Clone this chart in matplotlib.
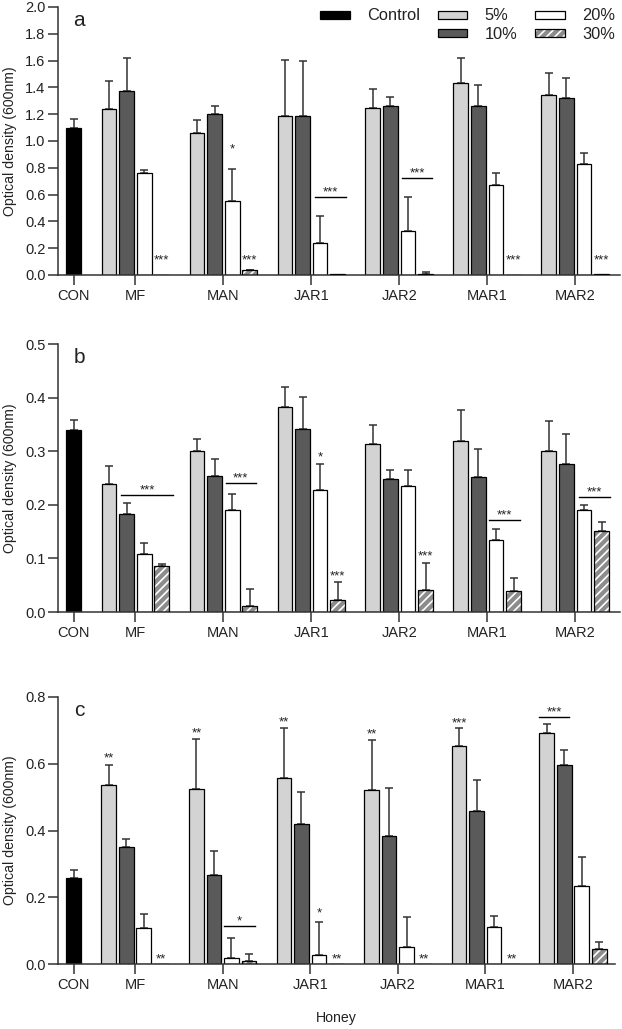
import numpy as np
import matplotlib as mpl
from matplotlib import pyplot as plt
from matplotlib.patches import Patch

plt.rcParams['font.family'] = ['Liberation Sans', 'DejaVu Sans']
plt.rcParams['hatch.linewidth'] = 1.2

honeys = ['CON', 'MF', 'MAN', 'JAR1', 'JAR2', 'MAR1', 'MAR2']
levels = ['5%', '10%', '20%', '30%']

# panel a
a_con, a_con_err = 1.10, 0.065
a_5 = [1.24, 1.06, 1.19, 1.25, 1.43, 1.34]
a_5_err = [0.21, 0.10, 0.415, 0.14, 0.19, 0.17]
a_10 = [1.37, 1.20, 1.19, 1.26, 1.26, 1.32]
a_10_err = [0.25, 0.06, 0.405, 0.07, 0.16, 0.15]
a_20 = [0.76, 0.55, 0.24, 0.33, 0.67, 0.83]
a_20_err = [0.027, 0.24, 0.20, 0.25, 0.094, 0.077]
a_30 = [0.0, 0.035, 0.005, 0.005, 0.0, 0.005]
a_30_err = [0.0, 0.005, 0.0, 0.017, 0.0, 0.0]

# panel b
b_con, b_con_err = 0.34, 0.018
b_5 = [0.238, 0.300, 0.382, 0.314, 0.319, 0.301]
b_5_err = [0.034, 0.022, 0.037, 0.035, 0.057, 0.055]
b_10 = [0.183, 0.254, 0.342, 0.248, 0.252, 0.277]
b_10_err = [0.021, 0.032, 0.060, 0.016, 0.052, 0.055]
b_20 = [0.109, 0.191, 0.228, 0.236, 0.134, 0.191]
b_20_err = [0.020, 0.030, 0.048, 0.029, 0.020, 0.008]
b_30 = [0.085, 0.012, 0.022, 0.041, 0.039, 0.152]
b_30_err = [0.005, 0.030, 0.034, 0.051, 0.025, 0.015]

# panel c
c_con, c_con_err = 0.258, 0.024
c_5 = [0.537, 0.525, 0.556, 0.520, 0.653, 0.693]
c_5_err = [0.060, 0.150, 0.151, 0.152, 0.053, 0.026]
c_10 = [0.350, 0.266, 0.420, 0.384, 0.459, 0.597]
c_10_err = [0.026, 0.074, 0.094, 0.144, 0.092, 0.044]
c_20 = [0.107, 0.018, 0.027, 0.052, 0.111, 0.234]
c_20_err = [0.043, 0.061, 0.100, 0.088, 0.034, 0.086]
c_30 = [0.0, 0.010, 0.0, 0.0, 0.0, 0.045]
c_30_err = [0.0, 0.020, 0.0, 0.0, 0.0, 0.020]

# stars: (honey index 1..6, level index, y of star, text)
a_stars = [(1, 3, 0.14, '***'), (2, 2, 0.97, '*'), (2, 3, 0.14, '***'),
           (5, 3, 0.14, '***'), (6, 3, 0.14, '***')]
b_stars = [(3, 2, 0.297, '*'), (3, 3, 0.075, '***'), (4, 3, 0.112, '***')]
c_stars = [(1, 0, 0.628, '**'), (1, 3, 0.027, '**'), (2, 0, 0.704, '**'),
           (3, 0, 0.736, '**'), (3, 2, 0.164, '*'), (3, 3, 0.028, '**'),
           (4, 0, 0.701, '**'), (4, 3, 0.028, '**'), (5, 0, 0.733, '***'),
           (5, 3, 0.028, '**')]
# bracket lines: (honey index, from, to (bar units from group centre), y, text)
a_lines = [(3, 0.21, 1.95, 0.584, '***'), (4, 0.14, 1.88, 0.724, '***')]
b_lines = [(1, -0.79, 2.15, 0.219, '***'), (2, 0.13, 1.84, 0.240, '***'),
           (5, 0.12, 1.89, 0.1716, '***'), (6, 0.23, 1.99, 0.215, '***')]
c_lines = [(2, 0.07, 1.84, 0.115, '*'), (6, -1.95, -0.2, 0.741, '***')]

group_x = np.array([0, 3.5, 8.5, 13.5, 18.5, 23.5, 28.5])
offsets = np.array([-1.5, -0.5, 0.5, 1.5])
width = 0.84
colors = ['#d3d3d3', '#5a5a5a', '#ffffff', '#8c8c8c']
dark = '#222222'
edge_lw = 0.9


def draw_panel(ax, con, con_err, means, errs, ymax, step, letter, stars, lines, xright):
    ax.bar(group_x[0], con, width, color='black', edgecolor='black', lw=edge_lw, zorder=2)
    ax.errorbar(group_x[0], con, yerr=[[0], [con_err]], fmt='none', ecolor='#333333',
                elinewidth=1.1, capsize=3, capthick=1.1, zorder=1)
    for li in range(4):
        xs = group_x[1:] + offsets[li]
        vals = np.array(means[li])
        if li == 3:
            ax.bar(xs, vals, width, color=colors[li], edgecolor='white', lw=0,
                   hatch='////', zorder=2)
            ax.bar(xs, vals, width, fill=False, edgecolor='black', lw=edge_lw, zorder=3)
        else:
            ax.bar(xs, vals, width, color=colors[li], edgecolor='black', lw=edge_lw, zorder=2)
        e = np.array(errs[li])
        m = e > 0
        ax.errorbar(xs[m], vals[m], yerr=[np.zeros(m.sum()), e[m]], fmt='none',
                    ecolor='#333333', elinewidth=1.1, capsize=3, capthick=1.1, zorder=1)
    for g, li, y, t in stars:
        ax.annotate(t, (group_x[g] + offsets[li], y), xytext=(0, -5.4),
                    textcoords='offset points', ha='center', va='baseline',
                    fontsize=9.5, color=dark)
    for g, x0, x1, y, t in lines:
        ax.plot([group_x[g] + x0, group_x[g] + x1], [y, y], color='black', lw=1.0)
        ax.annotate(t, ((2 * group_x[g] + x0 + x1) / 2, y), xytext=(0, 1.2),
                    textcoords='offset points', ha='center', va='baseline',
                    fontsize=9.5, color=dark)
    ax.set_xlim(-0.9, xright)
    ax.set_ylim(0, ymax)
    ax.set_yticks(np.arange(0, ymax + step / 2, step))
    ax.yaxis.set_major_formatter(mpl.ticker.FormatStrFormatter('%.1f'))
    ax.set_xticks(group_x)
    ax.set_xticklabels(honeys)
    for s in ['top', 'right']:
        ax.spines[s].set_visible(False)
    for s in ['left', 'bottom']:
        ax.spines[s].set_linewidth(1.1)
        ax.spines[s].set_color('#333333')
    ax.tick_params(direction='out', length=7, width=1.1, color='#333333',
                   labelsize=10.5, labelcolor=dark)
    ax.tick_params(axis='y', pad=2)
    ax.tick_params(axis='x', pad=3)
    ax.set_ylabel('Optical density (600nm)', fontsize=10.2, color=dark)
    ax.yaxis.set_label_coords(-0.073, 0.5)
    ax.text(0.038, 0.95, letter, transform=ax.transAxes, ha='center', va='center',
            fontsize=15, color=dark)


fig = plt.figure(figsize=(6.22, 10.29), dpi=100)
ax_a = fig.add_axes([58 / 622, 754 / 1029, 562 / 622, 268 / 1029])
ax_b = fig.add_axes([58 / 622, 417 / 1029, 562 / 622, 268 / 1029])
ax_c = fig.add_axes([58 / 622, 65 / 1029, 557 / 622, 267 / 1029])

draw_panel(ax_a, a_con, a_con_err, [a_5, a_10, a_20, a_30], [a_5_err, a_10_err, a_20_err, a_30_err],
           2.0, 0.2, 'a', a_stars, a_lines, 31.05)
draw_panel(ax_b, b_con, b_con_err, [b_5, b_10, b_20, b_30], [b_5_err, b_10_err, b_20_err, b_30_err],
           0.5, 0.1, 'b', b_stars, b_lines, 31.05)
draw_panel(ax_c, c_con, c_con_err, [c_5, c_10, c_20, c_30], [c_5_err, c_10_err, c_20_err, c_30_err],
           0.8, 0.2, 'c', c_stars, c_lines, 30.9)

ax_c.set_xlabel('Honey', fontsize=10.2, color=dark)
ax_c.xaxis.set_label_coords(0.5, -0.175)

# legend
h_con = Patch(facecolor='black', edgecolor='black', lw=edge_lw)
h_blank = Patch(visible=False)
h5 = Patch(facecolor=colors[0], edgecolor='black', lw=edge_lw)
h10 = Patch(facecolor=colors[1], edgecolor='black', lw=edge_lw)
h20 = Patch(facecolor=colors[2], edgecolor='black', lw=edge_lw)
h30 = (Patch(facecolor=colors[3], edgecolor='white', lw=0, hatch='////'),
       Patch(fill=False, edgecolor='black', lw=edge_lw))
ax_a.legend([h_con, h_blank, h5, h10, h20, h30], ['Control', '', levels[0], levels[1], levels[2], levels[3]],
            ncol=3, frameon=False, fontsize=11.8, loc='upper left',
            bbox_to_anchor=(320 / 622, 1 - 8.5 / 1029), bbox_transform=fig.transFigure,
            borderaxespad=0, borderpad=0, handlelength=1.8, handleheight=0.4,
            handletextpad=1.05, columnspacing=1.1, labelspacing=0.22,
            labelcolor=dark)

fig.savefig('out.png', dpi=100)
